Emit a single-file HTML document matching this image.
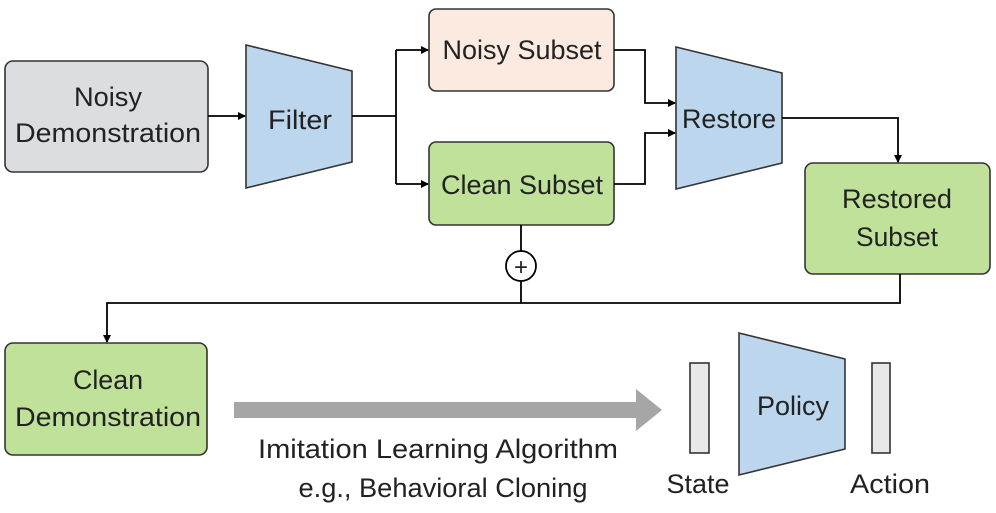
<!DOCTYPE html>
<html><head><meta charset="utf-8"><style>
html,body{margin:0;padding:0;background:#fff;}
svg text{font-family:"Liberation Sans",sans-serif;fill:#222;}
</style></head><body>
<svg width="996" height="508" viewBox="0 0 996 508" xmlns="http://www.w3.org/2000/svg">
<defs><marker id="a" markerWidth="8" markerHeight="8" refX="7" refY="4" orient="auto" markerUnits="userSpaceOnUse"><path d="M0,0 L8,4 L0,8 z" fill="#000"/></marker></defs>
<g stroke="#333" stroke-width="1.6">
<rect x="5" y="61" width="203" height="111" rx="8" fill="#dcdde0"/>
<polygon points="246,45 352,71 352,162 246,188" fill="#bcd6ee"/>
<rect x="429" y="9" width="185" height="82" rx="7" fill="#fbeae0"/>
<rect x="429" y="142" width="185" height="83" rx="7" fill="#bfe19a"/>
<polygon points="676,47 782,73 782,163 676,189" fill="#bcd6ee"/>
<rect x="805" y="163" width="185" height="111" rx="8" fill="#bfe19a"/>
<rect x="5" y="343" width="202" height="112" rx="8" fill="#bfe19a"/>
<rect x="690" y="363" width="19" height="90" fill="#e8e8e8"/>
<polygon points="739,333 845,359 845,449 739,475" fill="#bcd6ee"/>
<rect x="872" y="363" width="18" height="90" fill="#e8e8e8"/>
</g>
<g stroke="#000" stroke-width="1.8" fill="none">
<line x1="208" y1="116" x2="245" y2="116" marker-end="url(#a)"/>
<polyline points="352,116 396,116"/>
<polyline points="396,50 396,184"/>
<line x1="396" y1="50" x2="428" y2="50" marker-end="url(#a)"/>
<line x1="396" y1="184" x2="428" y2="184" marker-end="url(#a)"/>
<polyline points="614,50 645,50 645,103 675,103" marker-end="url(#a)"/>
<polyline points="614,184 645,184 645,133 675,133" marker-end="url(#a)"/>
<polyline points="782,118 898,118 898,162" marker-end="url(#a)"/>
<polyline points="900,274 900,303 107,303 107,342" marker-end="url(#a)"/>
<line x1="521" y1="225" x2="521" y2="251"/>
<line x1="521" y1="281" x2="521" y2="303"/>
<circle cx="521" cy="266" r="15" fill="#fff"/>
</g>
<text x="521" y="275" font-size="24" text-anchor="middle" fill="#000">+</text>
<polygon points="234,402 636,402 636,389 662,410 636,431 636,418 234,418" fill="#a6a6a6"/>
<g font-size="27" text-anchor="middle">
<text x="108" y="106" textLength="68" lengthAdjust="spacingAndGlyphs">Noisy</text>
<text x="108" y="142" textLength="186" lengthAdjust="spacingAndGlyphs">Demonstration</text>
<text x="300" y="129" textLength="64" lengthAdjust="spacingAndGlyphs">Filter</text>
<text x="522" y="59" textLength="159" lengthAdjust="spacingAndGlyphs">Noisy Subset</text>
<text x="522" y="194" textLength="162" lengthAdjust="spacingAndGlyphs">Clean Subset</text>
<text x="729" y="128" textLength="94" lengthAdjust="spacingAndGlyphs">Restore</text>
<text x="897" y="208" textLength="110" lengthAdjust="spacingAndGlyphs">Restored</text>
<text x="897" y="246" textLength="82" lengthAdjust="spacingAndGlyphs">Subset</text>
<text x="108" y="389" textLength="70" lengthAdjust="spacingAndGlyphs">Clean</text>
<text x="108" y="426" textLength="186" lengthAdjust="spacingAndGlyphs">Demonstration</text>
<text x="793" y="415" textLength="72" lengthAdjust="spacingAndGlyphs">Policy</text>
<text x="438" y="458" textLength="360" lengthAdjust="spacingAndGlyphs">Imitation Learning Algorithm</text>
<text x="443" y="497" textLength="289" lengthAdjust="spacingAndGlyphs">e.g., Behavioral Cloning</text>
<text x="698" y="493" textLength="63" lengthAdjust="spacingAndGlyphs">State</text>
<text x="890" y="493" textLength="80" lengthAdjust="spacingAndGlyphs">Action</text>
</g>
</svg>
</body></html>
